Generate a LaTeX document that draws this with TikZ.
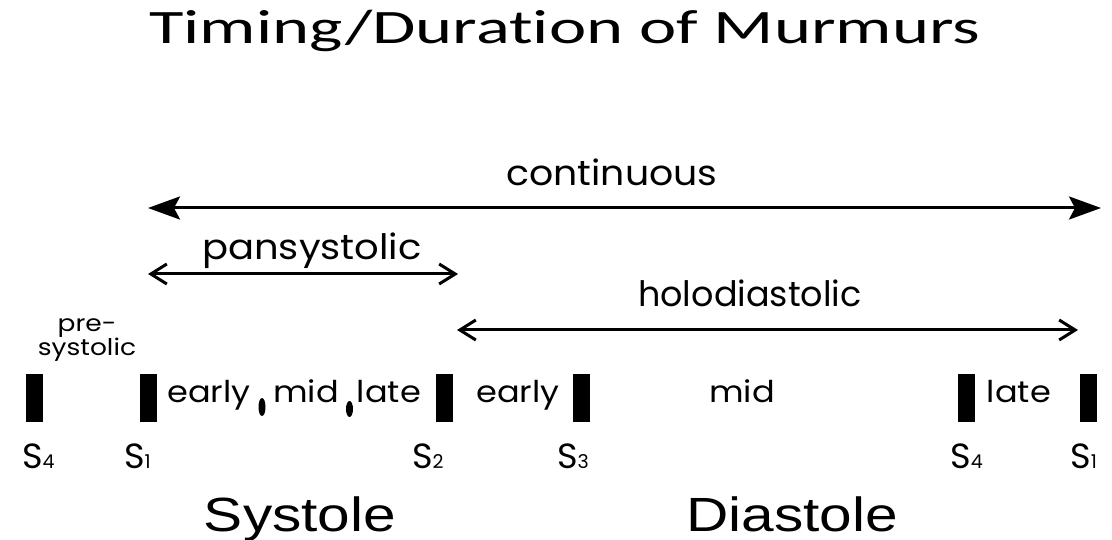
\documentclass[tikz,border=0pt]{standalone}
\usepackage{fontspec}
\setmainfont{Poppins}
\newfontfamily\titlefont[Ligatures=NoCommon]{Carlito}
\newfontfamily\phasefont{Liberation Sans}
\usetikzlibrary{arrows.meta}

\tikzset{
  heading/.style={inner sep=0pt, anchor=base, font=\titlefont\fontsize{48}{48}\selectfont},
  phase/.style={inner sep=0pt, anchor=base, font=\phasefont\fontsize{48}{48}\selectfont},
  span/.style={inner sep=0pt, anchor=base, font=\fontsize{35}{35}\selectfont},
  part/.style={inner sep=0pt, anchor=base, font=\fontsize{30}{30}\selectfont},
  small/.style={inner sep=0pt, align=center, font=\fontsize{23}{20}\selectfont},
  tone/.style={inner sep=0pt, anchor=base west, font=\fontsize{35}{35}\selectfont},
  bar/.style={fill=black, inner sep=0pt, minimum width=17pt, minimum height=48pt},
  wide/.style={line width=3pt, {Stealth[length=32pt,width=23pt,inset=6pt]}-{Stealth[length=32pt,width=23pt,inset=6pt]}},
  barbs/.style={line width=3pt, {Straight Barb[length=16pt,width=20pt]}-{Straight Barb[length=16pt,width=20pt]}},
}
\newcommand{\snd}[1]{S{\fontsize{19}{19}\selectfont #1}}

\begin{document}
\begin{tikzpicture}[x=1pt, y=-1pt]
\useasboundingbox (0,0) rectangle (1112,540);

% heading
\node[heading] (title) at (565,44) {\scalebox{1.47}[1]{Timing/Duration of Murmurs}};

% arrow end points
\coordinate (cL) at (148,208);
\coordinate (cR) at (1101,208);
\coordinate (pL) at (148,274);
\coordinate (pR) at (458,274);
\coordinate (hL) at (457,330);
\coordinate (hR) at (1078,330);

\draw[wide] (cL) -- (cR);
\draw[barbs] (pL) -- (pR);
\draw[barbs] (hL) -- (hR);

\node[span] (lcont) at (612,186) {\scalebox{1.08}[1]{continuous}};
\node[span] (lpan) at (312,260) {\scalebox{1.1}[1]{pansystolic}};
\node[span] (lholo) at (750,307) {holodiastolic};

\node[small] (lpre) at (87,340) {\scalebox{1.15}[1]{pre-}\\\scalebox{1.15}[1]{systolic}};

% heart sound bars
\node[bar] (b1) at (34,398) {};
\node[bar] (b2) at (148.5,398) {};
\node[bar] (b3) at (444.5,398) {};
\node[bar] (b4) at (581.5,398) {};
\node[bar] (b5) at (966.5,398) {};
\node[bar] (b6) at (1088.5,398) {};

% dividers within systole
\fill (262,407) ellipse (3.5pt and 9pt);
\fill (349.5,409) ellipse (3.5pt and 8pt);

\node[part] (se) at (209,402) {\scalebox{1.12}[1]{early}};
\node[part] (sm) at (306,402) {\scalebox{1.12}[1]{mid}};
\node[part] (sl) at (389,402) {\scalebox{1.12}[1]{late}};
\node[part] (de) at (518,402) {\scalebox{1.12}[1]{early}};
\node[part] (dm) at (742,402) {\scalebox{1.12}[1]{mid}};
\node[part] (dl) at (1019,402) {\scalebox{1.12}[1]{late}};

\node[tone] (t1) at (22,468) {\snd{4}};
\node[tone] (t2) at (124,468) {\snd{1}};
\node[tone] (t3) at (412,468) {\snd{2}};
\node[tone] (t4) at (557,468) {\snd{3}};
\node[tone] (t5) at (950,468) {\snd{4}};
\node[tone] (t6) at (1070,468) {\snd{1}};

\node[phase] (sys) at (300,531) {\scalebox{1.22}[1]{Systole}};
\node[phase] (dia) at (792,531) {\scalebox{1.22}[1]{Diastole}};
\end{tikzpicture}
\end{document}
